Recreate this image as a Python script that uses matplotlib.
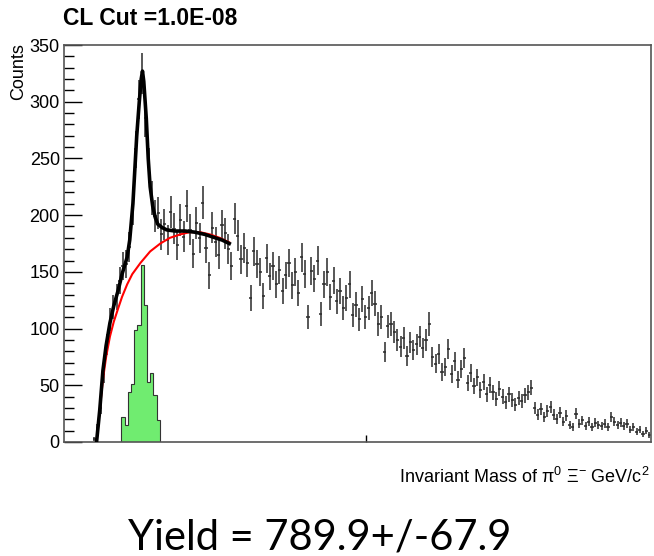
import numpy as np
import matplotlib.pyplot as plt
from matplotlib.ticker import MultipleLocator

plt.rcParams['font.family'] = ['Liberation Sans', 'DejaVu Sans']
plt.rcParams['mathtext.fontset'] = 'custom'
plt.rcParams['mathtext.rm'] = 'Liberation Sans'
plt.rcParams['mathtext.it'] = 'Liberation Sans:italic'

# data histogram, pi0 Xi- invariant mass (GeV/c^2)
bin_lo = 1.445
bin_w = 0.005
counts = [3, 12, 30, 60, 86, 108, 119, 128, 142, 155, 157, 172, 206, 258, 302, 325, 286, 244, 215, 199, 202, 183,
          192, 178, 203, 188, 174, 196, 181, 208, 187, 166, 193, 180, 211, 171, 147, 189, 176, 165, 191, 184, 170,
          155, 197, 182, 161, 171, 158, 127, 168, 157, 150, 129, 162, 146, 155, 139, 152, 133, 147, 158, 138, 150, 131,
          163, 148, 110, 151, 144, 160, 113, 139, 150, 128, 142, 124, 133, 118, 127, 139, 112, 121, 108, 126, 110,
          118, 131, 122, 104, 110, 79, 102, 104, 97, 90, 84, 92, 76, 88, 81, 86, 93, 83, 90, 104, 75, 69, 78, 62, 66,
          82, 60, 71, 55, 64, 74, 52, 61, 49, 57, 46, 53, 42, 50, 44, 38, 47, 40, 35, 42,
          37, 33, 39, 36, 41, 44, 48, 30, 24, 29, 22, 27, 31, 24, 20, 26, 18, 23, 15, 13,
          25, 16, 19, 14, 18, 13, 17, 15, 14, 16, 13, 22, 18, 15, 17, 14, 16, 11, 13, 9, 11, 7, 10, 6]

# signal histogram (green)
sig_lo = 1.490
sig_counts = [22, 15, 44, 51, 99, 103, 156, 121, 53, 61, 41, 19]

# total fit (black)
fit_x = [1.451, 1.456, 1.461, 1.466, 1.472, 1.478, 1.485, 1.491, 1.499, 1.503, 1.508, 1.511, 1.514,
         1.518, 1.521, 1.523, 1.525, 1.529, 1.532, 1.535, 1.539, 1.543, 1.547, 1.554, 1.561, 1.574,
         1.590, 1.605, 1.621, 1.637, 1.648, 1.659]
fit_y = [0, 28, 63, 85, 105, 120, 134, 148, 163, 178, 210, 240, 270,
         300, 320, 327, 318, 285, 250, 225, 208, 198, 192, 189, 187, 186,
         186, 185, 183, 180, 178, 175]

# background fit (red)
bkg_x = [1.451, 1.456, 1.461, 1.466, 1.472, 1.478, 1.485, 1.491, 1.499, 1.507, 1.520, 1.535,
         1.551, 1.566, 1.582, 1.597, 1.613, 1.629, 1.644, 1.659]
bkg_y = [0, 28, 55, 75, 93, 106, 118, 128, 139, 148, 158, 168,
         175, 180, 183, 185, 185, 183, 180, 176]

yield_val, yield_err = 789.9, 67.9

fig = plt.figure(figsize=(6.54, 5.56), dpi=100)
ax = fig.add_axes([64/654, 1-442/556, 587/654, 397/556])

n = len(counts)
centers = bin_lo + bin_w * (np.arange(n) + 0.5)
ax.errorbar(centers, counts, yerr=np.sqrt(counts), xerr=bin_w/2, fmt='none',
            ecolor='#2a2a2a', elinewidth=1.1, capsize=0, zorder=2)

sig_edges = sig_lo + bin_w * np.arange(len(sig_counts) + 1)
ax.stairs(sig_counts, sig_edges, fill=True, color='#70ec70', zorder=1)
ax.stairs(sig_counts, sig_edges, color='#333333', lw=0.8, baseline=0, zorder=1)

ax.plot(bkg_x, bkg_y, color='red', lw=1.5, zorder=3)
ax.plot(fit_x, fit_y, color='black', lw=2.6, zorder=4)

ax.set_xlim(1.40, 2.32)
ax.set_ylim(0, 350)
ax.yaxis.set_major_locator(MultipleLocator(50))
ax.yaxis.set_minor_locator(MultipleLocator(10))
ax.set_xticks([1.873])
ax.set_xticklabels([])
ax.tick_params(axis='y', which='major', direction='in', length=13, width=1, labelsize=13, pad=3)
ax.tick_params(axis='y', which='minor', direction='in', length=7, width=1)
ax.tick_params(axis='x', which='major', direction='in', length=5, width=1)
for s in ax.spines.values():
    s.set_color('#555555')
    s.set_linewidth(1.2)

fig.text(63/654, 1-18.5/556, 'CL Cut =1.0E-08', fontsize=16.5, fontweight='bold', va='center', ha='left')
fig.text(18.5/654, 1-43/556, 'Counts', fontsize=13, rotation=90, ha='center', va='top')
fig.text(650/654, 1-477/556, r'Invariant Mass of $\mathrm{π}^{0}$ $\mathrm{Ξ}^{-}$ GeV/c$^{2}$',
         fontsize=13, ha='right', va='center')
fig.text(320/654, 1-550/556, 'Yield = %.1f+/-%.1f' % (yield_val, yield_err),
         fontsize=30, family=['Lato', 'DejaVu Sans'], ha='center', va='baseline')

fig.savefig('out.png', dpi=100)
